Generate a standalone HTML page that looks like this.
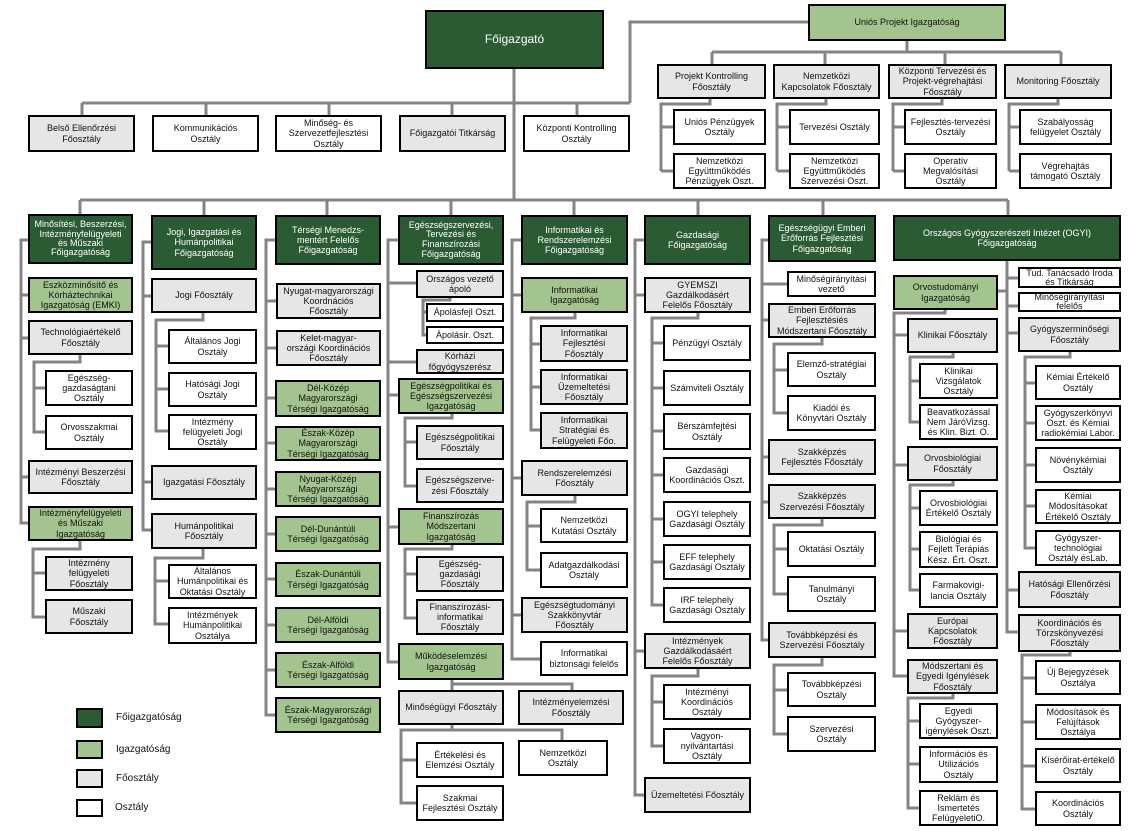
<!DOCTYPE html>
<html><head><meta charset="utf-8"><style>
body{margin:0;background:#fff;}
#c{position:relative;width:1131px;height:831px;overflow:hidden;font-family:"Liberation Sans",Arial,sans-serif;}
svg{position:absolute;left:0;top:0;}
.b{position:absolute;box-sizing:border-box;border:2px solid #000;display:flex;align-items:center;justify-content:center;text-align:center;font-size:9px;line-height:1.13;color:#111;padding:0 1px;overflow:hidden;}
.d{background:#2b5b33;color:#fff;}
.l{background:#a3c48e;}
.g{background:#e6e6e6;}
.w{background:#fff;}
.t{position:absolute;font-size:10px;color:#111;}
</style></head><body><div id="c">
<svg width="1131" height="831"><g fill="none" stroke="#848484" stroke-width="3">
<path d="M514 69V200M808 22H630V103M82 103H630M82 103V115M206 103V115M329 103V115M452 103V115M577 103V115"/>
<path d="M907 41V52M712 52H1061M712 52V64M825 52V64M945 52V64M1061 52V64"/>
<path d="M710 99V104H661V171M661 127H673M661 171H673"/>
<path d="M826 99V104H777V171M777 127H789M777 171H789"/>
<path d="M942 99V104H893V171M893 127H904M893 171H904"/>
<path d="M1058 99V104H1009V171M1009 127H1019M1009 171H1019"/>
<path d="M80 200H1008M80 200V214M204 200V215M327 200V215M451 200V215M574 200V215M698 200V215M823 200V215M1008 200V215"/>
<path d="M28 240H21V523H28M21 295H28M21 338H28M21 477H28"/>
<path d="M80 355V362H34V432H45M34 388H45"/>
<path d="M80 541V549H33V617H45M33 573H45"/>
<path d="M151 242H143V530H151M143 296H151M143 482H151"/>
<path d="M203 313V320H156V431H168M156 346H168M156 389H168"/>
<path d="M203 549V558H155V624H168M155 581H168"/>
<path d="M275 240H266V715H275M266 301H276M266 348H276M266 398H275M266 443H275M266 489H275M266 534H275M266 579H275M266 625H275M266 670H275"/>
<path d="M398 240H388V662H398M388 283H416M388 362H416M388 395H398M388 527H398"/>
<path d="M450 298V300H423V335H426M423 312H426"/>
<path d="M452 414V418H405V486H416M405 442H416"/>
<path d="M452 545V549H405V618H416M405 574H416"/>
<path d="M452 680V684H572V690M452 684V690"/>
<path d="M452 725V730H562V740M452 730H401V803H416M401 760H416"/>
<path d="M521 240H512V659H540M512 295H521M512 478H521M512 615H521"/>
<path d="M575 313V318H531V430H540M531 344H540M531 387H540"/>
<path d="M575 496V502H527V570H540M527 526H540"/>
<path d="M644 240H635V795H644M635 295H644M635 651H644"/>
<path d="M698 313V318H652V605H663M652 343H663M652 388H663M652 431H663M652 475H663M652 519H663M652 562H663"/>
<path d="M698 669V676H652V746H663M652 702H663"/>
<path d="M768 240H762V640H768M762 284H787M762 320H768M762 457H768M762 502H768"/>
<path d="M822 338V344H774V413H787M774 370H787"/>
<path d="M822 519V525H774V594H787M774 549H787"/>
<path d="M822 658V665H774V734H787M774 690H787"/>
<path d="M1007 261V632H1018M1007 291H998M1007 278H1018M1007 306H1018M1007 333H1018M1007 590H1018"/>
<path d="M945 310V313H894V676H907M894 335H907M894 465H907M894 631H907"/>
<path d="M953 353V357H910V422H919M910 381H919"/>
<path d="M953 481V485H910V590H919M910 508H919M910 549H919"/>
<path d="M953 694V698H908V808H919M908 721H919M908 764H919"/>
<path d="M1070 352V357H1025V548H1035M1025 383H1035M1025 423H1035M1025 465H1035M1025 506H1035"/>
<path d="M1070 652V655H1022V809H1035M1022 678H1035M1022 722H1035M1022 766H1035"/>
</g></svg>

<div class="b d" style="left:425px;top:10px;width:179px;height:59px;font-size:12px">Főigazgató</div>
<div class="b l" style="left:808px;top:4px;width:198px;height:37px">Uniós Projekt Igazgatóság</div>

<div class="b g" style="left:28px;top:115px;width:107px;height:37px">Belső Ellenőrzési<br>Főosztály</div>
<div class="b w" style="left:152px;top:115px;width:107px;height:37px">Kommunikációs<br>Osztály</div>
<div class="b w" style="left:275px;top:115px;width:107px;height:37px">Minőség- és<br>Szervezetfejlesztési<br>Osztály</div>
<div class="b g" style="left:399px;top:115px;width:107px;height:37px">Főigazgatói Titkárság</div>
<div class="b w" style="left:523px;top:115px;width:107px;height:37px">Központi Kontrolling<br>Osztály</div>

<div class="b g" style="left:657px;top:64px;width:109px;height:35px">Projekt Kontrolling<br>Főosztály</div>
<div class="b g" style="left:773px;top:64px;width:107px;height:35px">Nemzetközi<br>Kapcsolatok Főosztály</div>
<div class="b g" style="left:888px;top:64px;width:109px;height:35px">Központi Tervezési és<br>Projekt-végrehajtási<br>Főosztály</div>
<div class="b g" style="left:1004px;top:64px;width:108px;height:35px">Monitoring Főosztály</div>
<div class="b w" style="left:673px;top:109px;width:93px;height:36px">Uniós Pénzügyek<br>Osztály</div>
<div class="b w" style="left:673px;top:153px;width:93px;height:36px">Nemzetközi<br>Együttműködés<br>Pénzügyek Oszt.</div>
<div class="b w" style="left:789px;top:109px;width:91px;height:36px">Tervezési Osztály</div>
<div class="b w" style="left:789px;top:153px;width:91px;height:36px">Nemzetközi<br>Együttműködés<br>Szervezési Oszt.</div>
<div class="b w" style="left:904px;top:109px;width:93px;height:36px">Fejlesztés-tervezési<br>Osztály</div>
<div class="b w" style="left:904px;top:153px;width:93px;height:36px">Operatív<br>Megvalósítási<br>Osztály</div>
<div class="b w" style="left:1019px;top:109px;width:93px;height:36px">Szabályosság<br>felügyelet Osztály</div>
<div class="b w" style="left:1019px;top:153px;width:93px;height:36px">Végrehajtás<br>támogató Osztály</div>

<div class="b d" style="left:28px;top:214px;width:105px;height:50px;line-height:1.05">Minősítési, Beszerzési,<br>Intézményfelügyeleti<br>és Műszaki<br>Főigazgatóság</div>
<div class="b d" style="left:151px;top:215px;width:106px;height:55px">Jogi, Igazgatási és<br>Humánpolitikai<br>Főigazgatóság</div>
<div class="b d" style="left:275px;top:215px;width:106px;height:50px">Térségi Menedzs-<br>mentért Felelős<br>Főigazgatóság</div>
<div class="b d" style="left:398px;top:215px;width:106px;height:50px;line-height:1.08">Egészségszervezési,<br>Tervezési és<br>Finanszírozási<br>Főigazgatóság</div>
<div class="b d" style="left:521px;top:215px;width:107px;height:50px">Informatikai és<br>Rendszerelemzési<br>Főigazgatóság</div>
<div class="b d" style="left:644px;top:215px;width:107px;height:50px">Gazdasági<br>Főigazgatóság</div>
<div class="b d" style="left:768px;top:215px;width:108px;height:47px">Egészségügyi Emberi<br>Erőforrás Fejlesztési<br>Főigazgatóság</div>
<div class="b d" style="left:893px;top:215px;width:228px;height:46px">Országos Gyógyszerészeti Intézet (OGYI)<br>Főigazgatóság</div>

<div class="b l" style="left:28px;top:277px;width:105px;height:36px">Eszközminősítő és<br>Kórháztechnikai<br>Igazgatóság (EMKI)</div>
<div class="b g" style="left:28px;top:320px;width:105px;height:35px">Technológiaértékelő<br>Főosztály</div>
<div class="b w" style="left:45px;top:370px;width:88px;height:36px">Egészség-<br>gazdaságtani<br>Osztály</div>
<div class="b w" style="left:45px;top:415px;width:88px;height:35px">Orvosszakmai<br>Osztály</div>
<div class="b g" style="left:28px;top:460px;width:105px;height:34px">Intézményi Beszerzési<br>Főosztály</div>
<div class="b l" style="left:28px;top:506px;width:105px;height:35px">Intézményfelügyeleti<br>és Műszaki<br>Igazgatóság</div>
<div class="b g" style="left:45px;top:556px;width:88px;height:35px">Intézmény<br>felügyeleti<br>Főosztály</div>
<div class="b g" style="left:45px;top:599px;width:88px;height:35px">Műszaki<br>Főosztály</div>

<div class="b g" style="left:151px;top:278px;width:106px;height:35px">Jogi Főosztály</div>
<div class="b w" style="left:168px;top:329px;width:89px;height:35px">Általános Jogi<br>Osztály</div>
<div class="b w" style="left:168px;top:372px;width:89px;height:35px">Hatósági Jogi<br>Osztály</div>
<div class="b w" style="left:168px;top:414px;width:89px;height:36px">Intézmény<br>felügyeleti Jogi<br>Osztály</div>
<div class="b g" style="left:151px;top:465px;width:106px;height:35px">Igazgatási Főosztály</div>
<div class="b g" style="left:151px;top:513px;width:106px;height:36px">Humánpolitikai<br>Főosztály</div>
<div class="b w" style="left:168px;top:564px;width:89px;height:35px">Általános<br>Humánpolitikai és<br>Oktatási Osztály</div>
<div class="b w" style="left:168px;top:607px;width:89px;height:37px">Intézmények<br>Humánpolitikai<br>Osztálya</div>

<div class="b g" style="left:276px;top:283px;width:105px;height:36px">Nyugat-magyarországi<br>Koordnációs<br>Főosztály</div>
<div class="b g" style="left:276px;top:330px;width:105px;height:36px">Kelet-magyar-<br>országi Koordinációs<br>Főosztály</div>
<div class="b l" style="left:275px;top:380px;width:106px;height:37px">Dél-Közép<br>Magyarországi<br>Térségi Igazgatóság</div>
<div class="b l" style="left:275px;top:426px;width:106px;height:35px">Észak-Közép<br>Magyarországi<br>Térségi Igazgatóság</div>
<div class="b l" style="left:275px;top:471px;width:106px;height:36px">Nyugat-Közép<br>Magyarországi<br>Térségi Igazgatóság</div>
<div class="b l" style="left:275px;top:516px;width:106px;height:36px">Dél-Dunántúli<br>Térségi Igazgatóság</div>
<div class="b l" style="left:275px;top:562px;width:106px;height:35px">Észak-Dunántúli<br>Térségi Igazgatóság</div>
<div class="b l" style="left:275px;top:607px;width:106px;height:36px">Dél-Alföldi<br>Térségi Igazgatóság</div>
<div class="b l" style="left:275px;top:652px;width:106px;height:36px">Észak-Alföldi<br>Térségi Igazgatóság</div>
<div class="b l" style="left:275px;top:697px;width:106px;height:36px">Észak-Magyarországi<br>Térségi Igazgatóság</div>

<div class="b g" style="left:416px;top:270px;width:88px;height:28px">Országos vezető<br>ápoló</div>
<div class="b w" style="left:426px;top:303px;width:78px;height:19px">Ápolásfejl Oszt.</div>
<div class="b w" style="left:426px;top:326px;width:78px;height:18px">Ápolásir. Oszt.</div>
<div class="b g" style="left:416px;top:349px;width:88px;height:25px">Kórházi<br>főgyógyszerész</div>
<div class="b l" style="left:398px;top:378px;width:106px;height:36px">Egészségpolitikai és<br>Egészségszervezési<br>Igazgatóság</div>
<div class="b g" style="left:416px;top:425px;width:88px;height:35px">Egészségpolitikai<br>Főosztály</div>
<div class="b g" style="left:416px;top:468px;width:88px;height:35px">Egészségszerve-<br>zési Főosztály</div>
<div class="b l" style="left:398px;top:508px;width:106px;height:37px">Finanszírozás<br>Módszertani<br>Igazgatóság</div>
<div class="b g" style="left:416px;top:556px;width:88px;height:36px">Egészség-<br>gazdasági<br>Főosztály</div>
<div class="b g" style="left:416px;top:599px;width:88px;height:36px">Finanszírozási-<br>informatikai<br>Főosztály</div>
<div class="b l" style="left:398px;top:643px;width:106px;height:37px">Működéselemzési<br>Igazgatóság</div>
<div class="b g" style="left:398px;top:690px;width:106px;height:35px">Minőségügyi Főosztály</div>
<div class="b g" style="left:518px;top:690px;width:106px;height:35px">Intézményelemzési<br>Főosztály</div>
<div class="b w" style="left:416px;top:742px;width:88px;height:36px">Értékelési és<br>Elemzési Osztály</div>
<div class="b w" style="left:518px;top:740px;width:90px;height:36px">Nemzetközi<br>Osztály</div>
<div class="b w" style="left:416px;top:785px;width:88px;height:36px">Szakmai<br>Fejlesztési Osztály</div>

<div class="b l" style="left:521px;top:277px;width:107px;height:36px">Informatikai<br>Igazgatóság</div>
<div class="b g" style="left:540px;top:325px;width:88px;height:37px">Informatikai<br>Fejlesztési<br>Főosztály</div>
<div class="b g" style="left:540px;top:369px;width:88px;height:36px">Informatikai<br>Üzemeltetési<br>Főosztály</div>
<div class="b g" style="left:540px;top:412px;width:88px;height:37px">Informatikai<br>Stratégiai és<br>Felügyeleti Főo.</div>
<div class="b g" style="left:521px;top:460px;width:107px;height:36px">Rendszerelemzési<br>Főosztály</div>
<div class="b w" style="left:540px;top:508px;width:88px;height:35px">Nemzetközi<br>Kutatási Osztály</div>
<div class="b w" style="left:540px;top:552px;width:88px;height:36px">Adatgazdálkodási<br>Osztály</div>
<div class="b g" style="left:521px;top:597px;width:107px;height:36px">Egészségtudományi<br>Szakkönyvtár<br>Főosztály</div>
<div class="b w" style="left:540px;top:641px;width:88px;height:35px">Informatikai<br>biztonsági felelős</div>

<div class="b g" style="left:644px;top:277px;width:107px;height:36px">GYEMSZI<br>Gazdálkodásért<br>Felelős Főosztály</div>
<div class="b w" style="left:663px;top:325px;width:88px;height:36px">Pénzügyi Osztály</div>
<div class="b w" style="left:663px;top:370px;width:88px;height:36px">Számviteli Osztály</div>
<div class="b w" style="left:663px;top:413px;width:88px;height:37px">Bérszámfejtési<br>Osztály</div>
<div class="b w" style="left:663px;top:457px;width:88px;height:36px">Gazdasági<br>Koordinációs Oszt.</div>
<div class="b w" style="left:663px;top:501px;width:88px;height:36px">OGYI telephely<br>Gazdasági Osztály</div>
<div class="b w" style="left:663px;top:544px;width:88px;height:36px">EFF telephely<br>Gazdasági Osztály</div>
<div class="b w" style="left:663px;top:587px;width:88px;height:36px">IRF telephely<br>Gazdasági Osztály</div>
<div class="b g" style="left:644px;top:633px;width:107px;height:36px">Intézmények<br>Gazdálkodásáért<br>Felelős Főosztály</div>
<div class="b w" style="left:663px;top:684px;width:88px;height:36px">Intézményi<br>Koordinációs<br>Osztály</div>
<div class="b w" style="left:663px;top:728px;width:88px;height:36px">Vagyon-<br>nyilvántartási<br>Osztály</div>
<div class="b g" style="left:644px;top:777px;width:107px;height:36px">Üzemeltetési Főosztály</div>

<div class="b w" style="left:787px;top:271px;width:89px;height:26px">Minőségirányítási<br>vezető</div>
<div class="b g" style="left:768px;top:303px;width:108px;height:35px">Emberi Erőforrás<br>Fejlesztésiés<br>Módszertani Főosztály</div>
<div class="b w" style="left:787px;top:352px;width:89px;height:35px">Elemző-stratégiai<br>Osztály</div>
<div class="b w" style="left:787px;top:395px;width:89px;height:36px">Kiadói és<br>Könyvtári Osztály</div>
<div class="b g" style="left:768px;top:439px;width:108px;height:36px">Szakképzés<br>Fejlesztés Főosztály</div>
<div class="b g" style="left:768px;top:484px;width:108px;height:35px">Szakképzés<br>Szervezési Főosztály</div>
<div class="b w" style="left:787px;top:531px;width:89px;height:36px">Oktatási Osztály</div>
<div class="b w" style="left:787px;top:576px;width:89px;height:36px">Tanulmányi<br>Osztály</div>
<div class="b g" style="left:768px;top:622px;width:108px;height:36px">Továbbképzési és<br>Szervezési Főosztály</div>
<div class="b w" style="left:787px;top:672px;width:89px;height:35px">Továbbképzési<br>Osztály</div>
<div class="b w" style="left:787px;top:716px;width:89px;height:36px">Szervezési<br>Osztály</div>

<div class="b l" style="left:893px;top:275px;width:105px;height:35px">Orvostudományi<br>Igazgatóság</div>
<div class="b g" style="left:907px;top:318px;width:91px;height:35px">Klinikai Főosztály</div>
<div class="b w" style="left:919px;top:363px;width:79px;height:36px">Klinikai<br>Vizsgálatok<br>Osztály</div>
<div class="b w" style="left:919px;top:404px;width:79px;height:36px">Beavatkozással<br>Nem JáróVizsg.<br>és Klin. Bizt. O.</div>
<div class="b g" style="left:907px;top:446px;width:91px;height:35px">Orvosbiológiai<br>Főosztály</div>
<div class="b w" style="left:919px;top:490px;width:79px;height:36px">Orvosbiológiai<br>Értékelő Osztály</div>
<div class="b w" style="left:919px;top:531px;width:79px;height:37px">Biológiai és<br>Fejlett Terápiás<br>Kész. Ért. Oszt.</div>
<div class="b w" style="left:919px;top:573px;width:79px;height:35px">Farmakovigi-<br>lancia Osztály</div>
<div class="b g" style="left:907px;top:613px;width:91px;height:36px">Európai<br>Kapcsolatok<br>Főosztály</div>
<div class="b g" style="left:907px;top:659px;width:91px;height:35px">Módszertani és<br>Egyedi Igénylések<br>Főosztály</div>
<div class="b w" style="left:919px;top:703px;width:79px;height:36px">Egyedi<br>Gyógyszer-<br>igénylések Oszt.</div>
<div class="b w" style="left:919px;top:746px;width:79px;height:37px">Információs és<br>Utilizációs<br>Osztály</div>
<div class="b w" style="left:919px;top:790px;width:79px;height:36px">Reklám és<br>Ismertetés<br>FelügyeletiO.</div>

<div class="b w" style="left:1018px;top:267px;width:103px;height:21px;line-height:1">Tud. Tanácsadó Iroda<br>és Titkárság</div>
<div class="b w" style="left:1018px;top:292px;width:103px;height:20px;line-height:1">Minőségirányítási<br>felelős</div>
<div class="b g" style="left:1018px;top:317px;width:103px;height:35px">Gyógyszerminőségi<br>Főosztály</div>
<div class="b w" style="left:1035px;top:365px;width:86px;height:35px">Kémiai Értékelő<br>Osztály</div>
<div class="b w" style="left:1035px;top:405px;width:86px;height:36px">Gyógyszerkönyvi<br>Oszt. és Kémiai<br>radiokémiai Labor.</div>
<div class="b w" style="left:1035px;top:447px;width:86px;height:36px">Növénykémiai<br>Osztály</div>
<div class="b w" style="left:1035px;top:489px;width:86px;height:35px">Kémiai<br>Módosításokat<br>Értékelő Osztály</div>
<div class="b w" style="left:1035px;top:530px;width:86px;height:36px">Gyógyszer-<br>technológiai<br>Osztály ésLab.</div>
<div class="b g" style="left:1018px;top:571px;width:103px;height:37px">Hatósági Ellenőrzési<br>Főosztály</div>
<div class="b g" style="left:1018px;top:614px;width:103px;height:38px">Koordinációs és<br>Törzskönyvezési<br>Főosztály</div>
<div class="b w" style="left:1035px;top:660px;width:86px;height:35px">Új Bejegyzések<br>Osztálya</div>
<div class="b w" style="left:1035px;top:704px;width:86px;height:36px">Módosítások és<br>Felújítások<br>Osztálya</div>
<div class="b w" style="left:1035px;top:748px;width:86px;height:35px">Kísérőirat-értékelő<br>Osztály</div>
<div class="b w" style="left:1035px;top:791px;width:86px;height:35px">Koordinációs<br>Osztály</div>

<div class="b d" style="left:76px;top:708px;width:27px;height:20px"></div>
<div class="b l" style="left:76px;top:740px;width:27px;height:19px"></div>
<div class="b g" style="left:76px;top:769px;width:27px;height:19px"></div>
<div class="b w" style="left:76px;top:799px;width:27px;height:18px"></div>
<div class="t" style="left:116px;top:712px">Főigazgatóság</div>
<div class="t" style="left:116px;top:744px">Igazgatóság</div>
<div class="t" style="left:116px;top:773px">Főosztály</div>
<div class="t" style="left:115px;top:802px">Osztály</div>
</div></body></html>
